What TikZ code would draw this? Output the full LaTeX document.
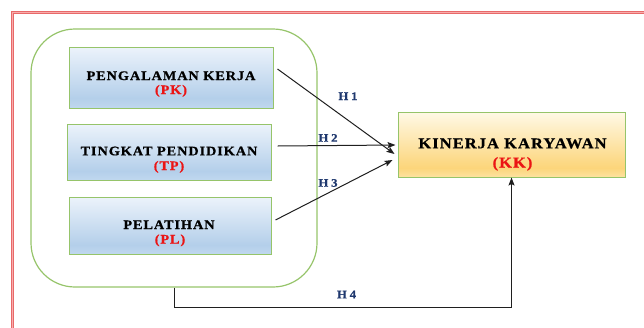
\documentclass[tikz,border=0pt]{standalone}
\usepackage{fontspec}
\setmainfont{Liberation Serif}
\newfontfamily\boxfont[FakeStretch=1.1,LetterSpace=7,FakeBold=0.7]{Liberation Serif Bold}
\newfontfamily\hfont[FakeStretch=1.1,LetterSpace=25,FakeBold=0.7]{Liberation Serif Bold}
\usetikzlibrary{arrows.meta}
\definecolor{grn}{RGB}{150,196,106}
\definecolor{hblue}{RGB}{31,56,110}
\definecolor{boxtop}{RGB}{236,243,251}
\definecolor{boxmid}{RGB}{180,207,234}
\definecolor{boxbot}{RGB}{192,216,239}
\definecolor{kktop}{RGB}{255,249,230}
\definecolor{kkmid}{RGB}{252,213,122}
\definecolor{kkbot}{RGB}{253,226,160}
\definecolor{frameout}{RGB}{232,105,105}
\definecolor{framein}{RGB}{248,172,172}
\definecolor{txtred}{RGB}{235,20,20}
\pgfdeclareverticalshading{boxshade}{100bp}{color(0bp)=(boxbot); color(25bp)=(boxbot); color(33bp)=(boxmid); color(75bp)=(boxtop); color(100bp)=(boxtop)}
\pgfdeclareverticalshading{kkshade}{100bp}{color(0bp)=(kkbot); color(25bp)=(kkbot); color(32bp)=(kkmid); color(75bp)=(kktop); color(100bp)=(kktop)}
\begin{document}
\begin{tikzpicture}[x=1pt,y=-1pt,
  varbox/.style={draw=grn, line width=1pt, shading=boxshade, inner sep=0pt},
  lbl/.style={font=\boxfont\fontsize{13}{15}\selectfont, anchor=base, inner sep=0pt},
  kklbl/.style={font=\boxfont\fontsize{15}{18}\selectfont, anchor=base, inner sep=0pt},
  hlab/.style={font=\hfont\fontsize{11.5}{12}\selectfont, text=hblue, anchor=base, inner sep=0pt},
  conn/.style={draw=black!88, line width=1pt, -{Stealth[length=8pt,width=6pt,inset=1.5pt]}}]
\useasboundingbox (0,0) rectangle (644,327);
\clip (0,0) rectangle (644,327);
% outer frame
\draw[draw=frameout, double=framein, line width=0.9pt, double distance=0.9pt] (12.5,12.5) rectangle (700,400);
% group container
\node[draw=grn, line width=1.2pt, rounded corners=44pt, minimum width=286pt, minimum height=258pt, inner sep=0pt] (grp) at (174,158) {};
% variable boxes
\node[varbox, minimum width=204pt, minimum height=61pt] (pk) at (171,77.5) {};
\node[lbl] (pkt) at (171,80) {PENGALAMAN KERJA};
\node[lbl, text=txtred] (pkc) at (171,94) {(PK)};
\node[varbox, minimum width=204pt, minimum height=56pt] (tp) at (169,152) {};
\node[lbl] (tpt) at (169,155.3) {TINGKAT PENDIDIKAN};
\node[lbl, text=txtred] (tpc) at (169,170) {(TP)};
\node[varbox, minimum width=202pt, minimum height=57pt] (pl) at (170,225.5) {};
\node[lbl] (plt) at (169,229) {PELATIHAN};
\node[lbl, text=txtred] (plc) at (170,243.5) {(PL)};
% dependent box
\node[draw=grn, line width=1pt, shading=kkshade, minimum width=227pt, minimum height=65pt, inner sep=0pt] (kk) at (511.5,144.5) {};
\node[kklbl] (kkt) at (512.5,148.3) {KINERJA KARYAWAN};
\node[kklbl, text=txtred] (kkc) at (512.5,167.5) {(KK)};
% connectors
\draw[conn] ([xshift=4pt,yshift=8.5pt]pk.east) -- ([xshift=-3pt,yshift=-9.5pt]kk.west);
\draw[conn] ([xshift=6pt,yshift=6pt]tp.east) -- ([xshift=-2pt,yshift=-0.5pt]kk.west);
\draw[conn] ([xshift=4pt,yshift=5.5pt]pl.east) -- ([xshift=-5pt,yshift=-15.5pt]kk.west);
\coordinate (c1) at (grp.south |- 0,307);
\coordinate (c2) at (kk.south |- 0,307);
\draw[conn] (grp.south) -- (c1) -- (c2) -- (kk.south);
% hypothesis labels
\node[hlab] (h1) at (348,100) {H1};
\node[hlab] (h2) at (328,141.7) {H2};
\node[hlab] (h3) at (328,186.7) {H3};
\node[hlab] (h4) at (346.5,298.3) {H4};
\end{tikzpicture}
\end{document}
